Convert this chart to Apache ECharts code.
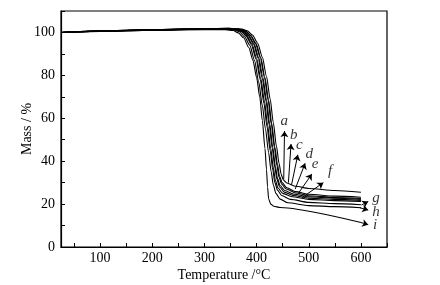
<!DOCTYPE html>
<html>
<head>
<meta charset="utf-8">
<script src="https://cdn.jsdelivr.net/npm/echarts@6/dist/echarts.min.js"></script>
<style>
  html, body { margin: 0; padding: 0; background: #fff; }
  #main { width: 440px; height: 285px; }
</style>
</head>
<body>
<div id="main"></div>
<script>
// TGA curves, [temperature (°C), mass (%)]
var curveA = [[25,100],[100,100.7],[200,101.3],[300,101.8],[347,101.9],[372,101.6],[382,100.8],[392,98.8],[402,95],[411,88.5],[419,79.5],[426,69],[432,58],[438,47],[443,39],[447,34],[451,31.3],[458,29.8],[475,28.3],[500,27.3],[550,26.3],[600,25.5]];
var curveB = [[25,100],[100,100.7],[200,101.3],[300,101.8],[346,101.9],[369,101.5],[379,100.7],[389,98.6],[399,94.8],[408,88.3],[416,79],[423,68.5],[429,57.5],[435,46.5],[440,38.5],[444,33],[449,30],[458,27.6],[475,25.8],[500,24.6],[550,23.7],[600,23.2]];
var curveC = [[25,100],[100,100.7],[200,101.2],[300,101.7],[345,101.8],[368,101.5],[378,100.7],[388,98.6],[398,94.8],[407,88.3],[415,79],[422,68.5],[428,57.5],[434,46.5],[439,38],[443,32.5],[448,29.3],[457,27],[475,25.2],[500,23.9],[550,23.1],[600,22.6]];
var curveD = [[25,100],[100,100.6],[200,101.2],[300,101.7],[344,101.8],[365,101.5],[375,100.7],[385,98.6],[395,94.8],[404,88.3],[412,79],[419,68.5],[425,57.5],[431,46.5],[436,37.5],[440,32],[445,28.7],[454,26.3],[472,24.6],[500,23.4],[550,22.7],[600,22.2]];
var curveE = [[25,100],[100,100.6],[200,101.2],[300,101.6],[343,101.7],[364,101.4],[374,100.6],[384,98.5],[394,94.6],[403,88],[411,78.5],[418,68],[424,57],[430,46],[435,37],[439,31.5],[444,28],[453,25.6],[470,24],[500,22.8],[550,22.2],[600,21.7]];
var curveF = [[25,100],[100,100.6],[200,101.2],[300,101.6],[342,101.7],[361,101.4],[371,100.6],[381,98.5],[391,94.6],[400,88],[408,78.5],[415,68],[421,57],[427,46],[432,37],[436,31],[441,27.5],[450,25],[468,23.4],[500,22.2],[550,21.6],[600,21.2]];
var curveG = [[25,100],[100,100.6],[200,101.1],[300,101.5],[340,101.7],[360,101.3],[370,100.5],[380,98.3],[390,94.3],[399,87.5],[407,78],[414,67],[420,56],[426,45],[431,36],[435,30],[440,26.5],[448,24],[465,22.2],[500,20.8],[550,20.2],[600,19.7]];
var curveH = [[25,100],[100,100.6],[200,101.1],[300,101.5],[340,101.6],[357,101.2],[367,100.3],[377,98],[387,94],[396,87],[404,77],[411,66],[417,55],[423,44],[428,35],[432,29],[437,25],[445,22.3],[460,20.6],[500,19.3],[550,18.8],[600,18.3]];
var curveI = [[25,100],[100,100.5],[200,101],[300,101.3],[340,101.3],[355,100.9],[365,99.8],[375,97.5],[385,93],[393,87],[400,79],[406,70],[411,59],[416,46],[419,36],[421,28],[423,22.5],[427,20],[433,19],[445,18.4],[600,11.4]];

var curveNames = ['a','b','c','d','e','f','g','h','i'];
var curves = [curveA, curveB, curveC, curveD, curveE, curveF, curveG, curveH, curveI];

// pointer arrows [from, to]
var arrows = [
  [[452,31.5],[453.5,54]],
  [[461,30],[466,48]],
  [[467,29],[479,43]],
  [[474,27],[493,39]],
  [[480,25],[506,34]],
  [[487,23],[528,30]],
  [[601,19.6],[614,21.2]],
  [[598,18.3],[614,17.2]],
  [[600,11.4],[614,10.4]]
];

// letter labels [temperature, mass]
var labelPos = [[453,58.5],[471,52],[482,47.5],[501,43.5],[512,38.5],[541,35.5],[629,22.7],[629,16.5],[627,10]];

var xLabels = [100,200,300,400,500,600];
var xTicks = [50,100,150,200,250,300,350,400,450,500,550,600,650];
var yLabels = [0,20,40,60,80,100];
var yTicks = [0,10,20,30,40,50,60,70,80,90,100,110];

var serif = '"Liberation Serif", "DejaVu Serif", serif';

var series = curves.map(function (c, k) {
  return {
    name: curveNames[k],
    type: 'line',
    data: c,
    showSymbol: false,
    smooth: 0.25,
    smoothMonotone: 'x',
    lineStyle: { color: '#000', width: 1.1 },
    silent: true,
    markLine: {
      silent: true,
      symbol: ['none', 'arrow'],
      symbolSize: 6,
      label: { show: false },
      lineStyle: { color: '#000', width: 1, type: 'solid' },
      data: [[{ coord: arrows[k][0] }, { coord: arrows[k][1] }]]
    }
  };
});

series.push({
  type: 'scatter',
  symbolSize: 0,
  silent: true,
  data: labelPos.map(function (p, k) { return { name: curveNames[k], value: p }; }),
  label: {
    show: true,
    position: 'inside',
    formatter: '{b}',
    color: '#000',
    fontFamily: serif,
    fontStyle: 'italic',
    fontSize: 15
  }
});

var option = {
  animation: false,
  backgroundColor: '#fff',
  grid: { left: 61, right: 53, top: 11, bottom: 38, show: true, borderColor: '#000', borderWidth: 1.2, outerBoundsMode: 'none' },
  xAxis: {
    type: 'value',
    min: 25,
    max: 650,
    name: 'Temperature /°C',
    nameLocation: 'middle',
    nameGap: 21,
    nameMoveOverlap: false,
    nameTextStyle: { color: '#000', fontFamily: serif, fontSize: 14 },
    axisLine: { lineStyle: { color: '#000', width: 1.2 } },
    axisTick: { inside: true, length: 4, customValues: xTicks, lineStyle: { color: '#000' } },
    axisLabel: { customValues: xLabels, color: '#000', fontFamily: serif, fontSize: 14, margin: 4 },
    splitLine: { show: false }
  },
  yAxis: {
    type: 'value',
    min: 0,
    max: 110,
    name: 'Mass / %',
    nameLocation: 'middle',
    nameGap: 27,
    nameMoveOverlap: false,
    nameTextStyle: { color: '#000', fontFamily: serif, fontSize: 14 },
    axisLine: { lineStyle: { color: '#000', width: 1.2 } },
    axisTick: { inside: true, length: 4, customValues: yTicks, lineStyle: { color: '#000' } },
    axisLabel: { customValues: yLabels, color: '#000', fontFamily: serif, fontSize: 14, margin: 6 },
    splitLine: { show: false }
  },
  series: series
};

var chart = echarts.init(document.getElementById('main'));
chart.setOption(option);
</script>
</body>
</html>
